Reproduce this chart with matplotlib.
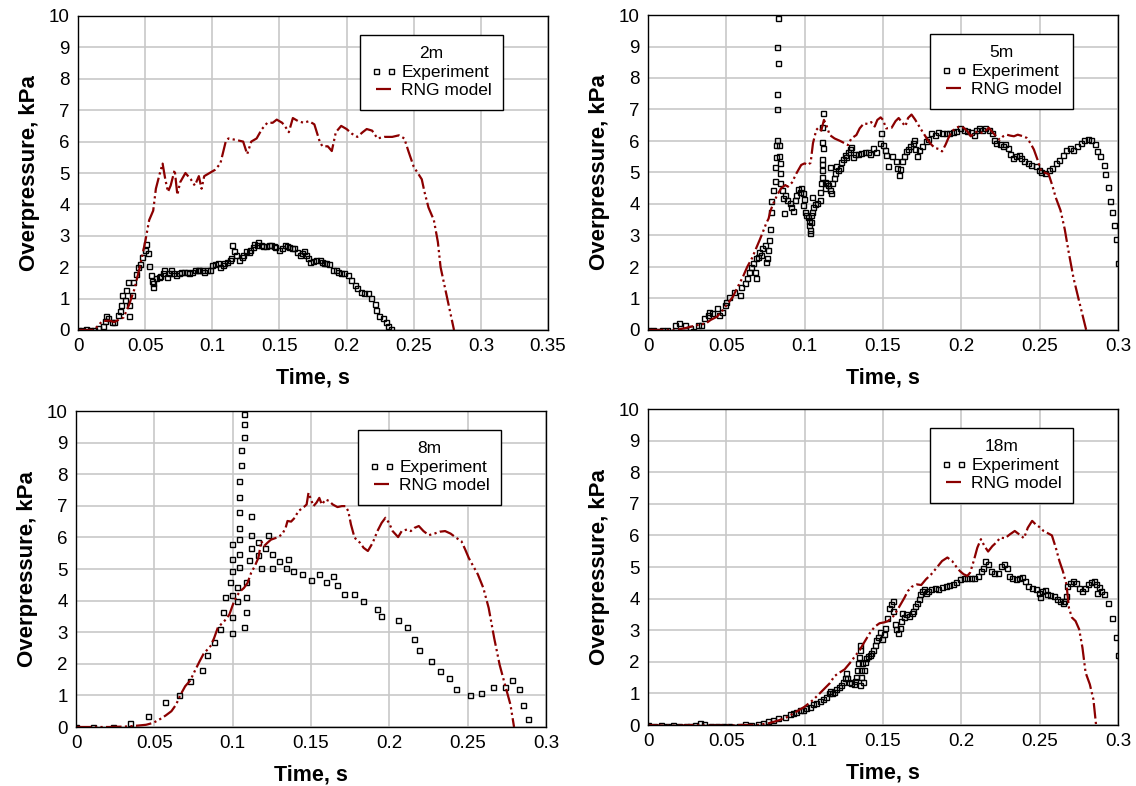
import matplotlib

matplotlib.use("Agg")
import matplotlib.pyplot as plt  # noqa: E402

plt.rcParams["font.family"] = ["Liberation Sans", "DejaVu Sans"]

# ---- 2 m ----
t_exp_2m = [0.000, 0.003, 0.006, 0.009, 0.012, 0.015, 0.0186, 0.020, 0.021, 0.022,
            0.025, 0.027, 0.030, 0.031, 0.032, 0.033, 0.035, 0.036, 0.037, 0.038,
            0.038, 0.040, 0.041, 0.043, 0.045, 0.046, 0.048, 0.050, 0.051, 0.052,
            0.053, 0.054, 0.055, 0.0555, 0.056, 0.058, 0.060, 0.061, 0.063, 0.064,
            0.066, 0.068, 0.069, 0.071, 0.073, 0.075, 0.077, 0.079, 0.081, 0.083,
            0.085, 0.087, 0.089, 0.090, 0.092, 0.094, 0.096, 0.098, 0.100, 0.102,
            0.104, 0.106, 0.108, 0.109, 0.111, 0.113, 0.114, 0.115, 0.116, 0.118,
            0.120, 0.122, 0.123, 0.125, 0.127, 0.128, 0.130, 0.131, 0.133, 0.134,
            0.136, 0.138, 0.140, 0.142, 0.144, 0.146, 0.147, 0.150, 0.152, 0.154,
            0.156, 0.157, 0.159, 0.161, 0.163, 0.165, 0.167, 0.168, 0.170, 0.171,
            0.173, 0.175, 0.177, 0.180, 0.182, 0.1835, 0.185, 0.187, 0.190, 0.192,
            0.1935, 0.196, 0.198, 0.201, 0.203, 0.206, 0.208, 0.211, 0.213, 0.216,
            0.218, 0.221, 0.222, 0.224, 0.227, 0.229, 0.2305, 0.233]
p_exp_2m = [0.00, 0.00, 0.02, 0.00, 0.00, 0.05, 0.13, 0.30, 0.45, 0.38,
            0.27, 0.27, 0.47, 0.60, 0.80, 1.12, 0.96, 1.27, 1.53, 0.43,
            0.80, 1.12, 1.53, 1.78, 2.00, 2.10, 2.33, 2.55, 2.73, 2.45,
            2.05, 1.76, 1.55, 1.36, 1.49, 1.65, 1.70, 1.72, 1.80, 1.90,
            1.70, 1.80, 1.90, 1.80, 1.76, 1.80, 1.84, 1.84, 1.86, 1.82,
            1.86, 1.90, 1.92, 1.92, 1.90, 1.86, 1.90, 1.92, 2.07, 2.10,
            2.12, 2.00, 2.06, 2.12, 2.18, 2.22, 2.28, 2.70, 2.50, 2.40,
            2.23, 2.32, 2.40, 2.50, 2.48, 2.55, 2.65, 2.75, 2.72, 2.80,
            2.70, 2.68, 2.67, 2.70, 2.70, 2.68, 2.65, 2.55, 2.62, 2.70,
            2.68, 2.65, 2.62, 2.60, 2.48, 2.40, 2.45, 2.50, 2.38, 2.28,
            2.18, 2.20, 2.23, 2.22, 2.16, 2.12, 2.14, 2.10, 1.91, 1.90,
            1.86, 1.83, 1.80, 1.75, 1.60, 1.43, 1.33, 1.22, 1.17, 1.17,
            1.01, 0.83, 0.64, 0.45, 0.37, 0.25, 0.13, 0.02]
t_rng_2m = [0.000, 0.012, 0.018, 0.0235, 0.027, 0.029, 0.034, 0.038, 0.042, 0.046,
            0.050, 0.053, 0.056, 0.058, 0.061, 0.063, 0.065, 0.067, 0.069, 0.072,
            0.074, 0.076, 0.080, 0.084, 0.087, 0.090, 0.092, 0.094, 0.098, 0.102,
            0.106, 0.110, 0.112, 0.118, 0.123, 0.126, 0.129, 0.133, 0.137, 0.141,
            0.145, 0.148, 0.152, 0.154, 0.157, 0.160, 0.164, 0.168, 0.172, 0.176,
            0.180, 0.182, 0.186, 0.189, 0.192, 0.196, 0.200, 0.204, 0.208, 0.212,
            0.215, 0.219, 0.223, 0.228, 0.234, 0.239, 0.243, 0.246, 0.250, 0.256,
            0.258, 0.261, 0.265, 0.268, 0.270, 0.275, 0.280]
p_rng_2m = [0.00, 0.00, 0.28, 0.30, 0.25, 0.30, 0.40, 0.80, 1.30, 2.00,
            2.80, 3.50, 3.80, 4.50, 5.00, 5.30, 4.80, 4.40, 4.60, 5.10,
            4.30, 4.70, 5.00, 4.80, 4.60, 4.90, 4.50, 4.90, 5.00, 5.10,
            5.30, 6.00, 6.10, 6.05, 6.00, 5.60, 6.00, 6.10, 6.40, 6.60,
            6.60, 6.70, 6.60, 6.50, 6.30, 6.75, 6.65, 6.60, 6.65, 6.55,
            6.00, 5.85, 5.85, 5.70, 6.30, 6.50, 6.40, 6.25, 6.15, 6.30,
            6.40, 6.35, 6.10, 6.15, 6.15, 6.20, 6.10, 5.70, 5.20, 4.80,
            4.40, 3.90, 3.50, 2.80, 2.00, 1.00, 0.00]

# ---- 5 m ----
t_exp_5m = [0.000, 0.003, 0.006, 0.009, 0.012, 0.017, 0.020, 0.0234, 0.0266, 0.0287,
            0.032, 0.034, 0.036, 0.038, 0.039, 0.041, 0.044, 0.045, 0.047, 0.049,
            0.050, 0.052, 0.055, 0.0585, 0.0596, 0.0617, 0.0634, 0.0642, 0.066, 0.067,
            0.0685, 0.0687, 0.069, 0.070, 0.071, 0.072, 0.073, 0.0745, 0.0755, 0.076,
            0.0766, 0.077, 0.0776, 0.0787, 0.0787, 0.0798, 0.081, 0.0813, 0.0817, 0.082,
            0.0823, 0.0821, 0.0821, 0.083, 0.0825, 0.083, 0.0834, 0.0836, 0.084, 0.084,
            0.0844, 0.0857, 0.0861, 0.0868, 0.0876, 0.0889, 0.0904, 0.0915, 0.0925, 0.0936,
            0.0947, 0.0957, 0.0968, 0.0978, 0.0989, 0.0996, 0.0991, 0.100, 0.101, 0.102,
            0.1025, 0.103, 0.1032, 0.1036, 0.1038, 0.1042, 0.1047, 0.1053, 0.1047, 0.1064,
            0.108, 0.1095, 0.1098, 0.1106, 0.111, 0.111, 0.111, 0.1113, 0.1117, 0.1113,
            0.1113, 0.1117, 0.1127, 0.1132, 0.1142, 0.1149, 0.116, 0.116, 0.1166, 0.1174,
            0.1187, 0.1196, 0.1202, 0.1213, 0.1223, 0.123, 0.1244, 0.1255, 0.1266, 0.1276,
            0.1287, 0.1298, 0.1308, 0.1319, 0.134, 0.1361, 0.1383, 0.1404, 0.1415, 0.1436,
            0.1457, 0.1478, 0.1489, 0.150, 0.151, 0.152, 0.153, 0.1555, 0.158, 0.159,
            0.160, 0.161, 0.162, 0.1635, 0.1647, 0.166, 0.1675, 0.169, 0.170, 0.1705,
            0.1716, 0.1728, 0.175, 0.1774, 0.1785, 0.1808, 0.183, 0.1854, 0.1877, 0.190,
            0.1923, 0.1946, 0.1969, 0.1991, 0.2015, 0.2038, 0.206, 0.208, 0.2095, 0.211,
            0.213, 0.2153, 0.2175, 0.2194, 0.221, 0.2222, 0.2245, 0.2267, 0.228, 0.2295,
            0.2313, 0.2332, 0.2348, 0.237, 0.238, 0.240, 0.2424, 0.2447, 0.2475, 0.2495,
            0.2511, 0.2534, 0.2557, 0.258, 0.2603, 0.2626, 0.2648, 0.2671, 0.2694, 0.2715,
            0.2738, 0.2761, 0.2784, 0.2807, 0.283, 0.2852, 0.2868, 0.2883, 0.291, 0.292,
            0.2933, 0.2949, 0.2963, 0.2974, 0.299, 0.300]
p_exp_5m = [0.00, 0.00, -0.02, 0.00, 0.00, 0.16, 0.21, 0.16, 0.05, -0.03,
            0.16, 0.16, 0.37, 0.48, 0.58, 0.53, 0.69, 0.48, 0.58, 0.79,
            0.90, 1.06, 1.22, 1.11, 1.38, 1.48, 1.64, 1.85, 2.01, 2.12,
            1.85, 1.64, 2.28, 2.33, 2.49, 2.38, 2.59, 2.70, 2.17, 2.28,
            2.54, 2.86, 3.20, 3.74, 4.10, 4.44, 4.74, 5.19, 5.50, 5.87,
            6.03, 7.00, 7.49, 8.49, 8.99, 9.89, 5.87, 5.52, 5.31, 4.97,
            4.66, 4.44, 4.18, 3.70, 4.28, 4.13, 4.04, 3.92, 3.79, 4.13,
            4.28, 4.47, 4.39, 4.50, 4.34, 4.15, 3.97, 3.74, 3.65, 3.58,
            3.47, 3.33, 3.17, 3.09, 3.44, 3.65, 3.76, 3.92, 4.23, 4.00,
            4.02, 4.13, 4.39, 4.66, 4.87, 5.08, 5.27, 5.42, 5.77, 5.98,
            6.46, 6.88, 4.71, 4.50, 4.66, 4.60, 5.19, 4.44, 4.36, 4.66,
            4.81, 4.97, 5.21, 5.08, 5.13, 5.34, 5.43, 5.56, 5.50, 5.66,
            5.74, 5.80, 5.50, 5.59, 5.59, 5.61, 5.66, 5.66, 5.59, 5.77,
            5.66, 5.93, 6.24, 5.87, 5.71, 5.56, 5.20, 5.51, 5.35, 5.14,
            4.93, 5.10, 5.35, 5.51, 5.67, 5.75, 5.83, 5.94, 6.04, 5.75,
            5.51, 5.72, 5.83, 6.00, 6.05, 6.26, 6.20, 6.28, 6.24, 6.26,
            6.26, 6.28, 6.31, 6.42, 6.34, 6.31, 6.28, 6.20, 6.34, 6.42,
            6.36, 6.42, 6.34, 6.26, 6.04, 5.94, 5.89, 5.83, 5.92, 5.78,
            5.60, 5.46, 5.51, 5.57, 5.46, 5.36, 5.30, 5.25, 5.20, 5.09,
            5.00, 4.98, 5.09, 5.14, 5.30, 5.41, 5.57, 5.70, 5.78, 5.70,
            5.83, 5.94, 6.04, 6.07, 6.04, 5.89, 5.67, 5.51, 5.25, 4.96,
            4.53, 4.11, 3.74, 3.32, 2.88, 2.12]
t_rng_5m = [0.000, 0.013, 0.017, 0.023, 0.032, 0.037, 0.040, 0.044, 0.047, 0.051,
            0.054, 0.0574, 0.0606, 0.0634, 0.0664, 0.069, 0.0713, 0.0734, 0.0755, 0.077,
            0.078, 0.080, 0.0825, 0.085, 0.0876, 0.0893, 0.0919, 0.0947, 0.0978, 0.100,
            0.102, 0.1038, 0.1053, 0.1074, 0.1089, 0.1106, 0.1123, 0.1138, 0.116, 0.1191,
            0.1223, 0.1255, 0.1276, 0.1298, 0.133, 0.1351, 0.1378, 0.1404, 0.1425, 0.1447,
            0.1464, 0.1485, 0.150, 0.152, 0.1555, 0.158, 0.160, 0.162, 0.1643, 0.166,
            0.1682, 0.1705, 0.1728, 0.175, 0.1785, 0.1808, 0.183, 0.1854, 0.1877, 0.190,
            0.1918, 0.194, 0.1969, 0.1991, 0.2015, 0.2038, 0.206, 0.2084, 0.2107, 0.213,
            0.2153, 0.2175, 0.2194, 0.2222, 0.2245, 0.2267, 0.229, 0.2313, 0.2336, 0.236,
            0.2394, 0.2417, 0.244, 0.2463, 0.2486, 0.251, 0.2534, 0.2557, 0.258, 0.2603,
            0.2633, 0.266, 0.2686, 0.2716, 0.275, 0.2797]
p_rng_5m = [0.00, 0.00, 0.00, 0.05, 0.16, 0.21, 0.32, 0.42, 0.58, 0.85,
            1.04, 1.38, 1.69, 2.01, 2.28, 2.59, 2.86, 3.12, 3.39, 3.54,
            3.76, 4.02, 4.29, 4.50, 4.60, 4.55, 4.68, 4.97, 5.24, 5.29,
            5.24, 5.31, 5.93, 6.35, 6.43, 6.33, 6.67, 6.51, 6.19, 6.08,
            6.01, 5.93, 5.87, 6.08, 6.19, 6.40, 6.56, 6.54, 6.60, 6.46,
            6.67, 6.75, 6.67, 6.40, 6.42, 6.63, 6.73, 6.60, 6.47, 6.73,
            6.84, 6.68, 6.49, 6.31, 6.04, 5.89, 5.78, 5.75, 5.67, 5.89,
            6.10, 6.31, 6.42, 6.47, 6.42, 6.31, 6.15, 6.26, 6.31, 6.26,
            6.31, 6.42, 6.31, 6.15, 6.04, 6.15, 6.20, 6.17, 6.15, 6.20,
            6.15, 6.10, 5.94, 5.73, 5.41, 5.04, 4.99, 4.95, 4.60, 4.20,
            3.80, 3.20, 2.45, 1.65, 0.95, 0.00]

# ---- 8 m ----
t_exp_8m = [0.000, 0.0106, 0.0238, 0.0343, 0.046, 0.0567, 0.0655, 0.0729, 0.0806, 0.0833,
            0.088, 0.0921, 0.0937, 0.0951, 0.0984, 0.0998, 0.0998, 0.0998, 0.0998, 0.0998,
            0.0998, 0.1025, 0.1028, 0.1039, 0.1042, 0.1039, 0.1039, 0.1039, 0.1039, 0.1039,
            0.1053, 0.1056, 0.1072, 0.1072, 0.1072, 0.1072, 0.1088, 0.1088, 0.1088, 0.1102,
            0.1118, 0.1118, 0.1118, 0.116, 0.1162, 0.1178, 0.1204, 0.1225, 0.1252, 0.1252,
            0.1296, 0.134, 0.1356, 0.1387, 0.1444, 0.1502, 0.1551, 0.1595, 0.1639, 0.1669,
            0.1713, 0.1773, 0.1829, 0.1921, 0.1949, 0.2053, 0.2113, 0.2157, 0.2188, 0.2264,
            0.2322, 0.2382, 0.2426, 0.2514, 0.2588, 0.2662, 0.2738, 0.2782, 0.2829, 0.2854,
            0.2887]
p_exp_8m = [0.00, 0.00, 0.00, 0.13, 0.36, 0.78, 1.02, 1.45, 1.80, 2.27,
            2.68, 3.10, 3.64, 4.11, 4.59, 4.17, 4.95, 5.31, 5.78, 2.98,
            3.47, 4.42, 3.98, 5.06, 5.48, 5.96, 6.31, 6.80, 7.28, 7.80,
            8.29, 8.76, 9.18, 9.60, 9.89, 3.16, 3.64, 4.12, 4.58, 5.30,
            5.66, 6.07, 6.67, 5.44, 5.85, 5.02, 5.66, 6.07, 5.48, 5.02,
            5.25, 5.02, 5.31, 4.95, 4.83, 4.66, 4.83, 4.58, 4.77, 4.48,
            4.22, 4.22, 3.98, 3.75, 3.51, 3.39, 3.16, 2.80, 2.44, 2.08,
            1.78, 1.55, 1.19, 1.01, 1.07, 1.26, 1.26, 1.48, 1.19, 0.71,
            0.24]
t_rng_8m = [0.000, 0.0215, 0.0343, 0.0447, 0.0493, 0.054, 0.0574, 0.0609, 0.0639, 0.0667,
            0.0697, 0.0729, 0.0759, 0.0789, 0.0817, 0.0845, 0.0863, 0.0882, 0.0905, 0.0928,
            0.0956, 0.0979, 0.1002, 0.1025, 0.1049, 0.1072, 0.1095, 0.1118, 0.1141, 0.1164,
            0.1183, 0.1199, 0.1222, 0.1245, 0.128, 0.1315, 0.1338, 0.135, 0.1373, 0.1396,
            0.1419, 0.1454, 0.1472, 0.1484, 0.150, 0.1516, 0.1535, 0.1553, 0.1569, 0.1593,
            0.1616, 0.1639, 0.1669, 0.1697, 0.172, 0.1738, 0.1755, 0.1778, 0.1813, 0.1836,
            0.1863, 0.1894, 0.1924, 0.1951, 0.1975, 0.1998, 0.2021, 0.2056, 0.2079, 0.2113,
            0.2137, 0.216, 0.2188, 0.2218, 0.2252, 0.2287, 0.2322, 0.2356, 0.2391, 0.2426,
            0.246, 0.2484, 0.2507, 0.253, 0.2565, 0.260, 0.2634, 0.2669, 0.2704, 0.2738,
            0.2773, 0.2796]
p_rng_8m = [0.00, 0.00, 0.02, 0.07, 0.13, 0.26, 0.37, 0.50, 0.71, 1.02,
            1.29, 1.47, 1.78, 2.08, 2.34, 2.48, 2.59, 2.82, 3.14, 3.26,
            3.40, 3.56, 3.88, 4.14, 4.30, 4.40, 4.56, 4.88, 5.09, 5.35,
            5.88, 5.72, 5.83, 5.93, 5.99, 6.09, 6.30, 6.52, 6.50, 6.62,
            6.83, 6.96, 7.04, 7.41, 7.20, 6.99, 7.10, 7.25, 7.04, 7.20,
            7.15, 7.04, 6.96, 6.99, 6.99, 6.83, 6.41, 5.99, 5.83, 5.67,
            5.57, 5.83, 6.20, 6.46, 6.62, 6.46, 6.20, 6.01, 6.20, 6.25,
            6.20, 6.30, 6.36, 6.20, 6.07, 6.12, 6.18, 6.20, 6.12, 5.99,
            5.88, 5.62, 5.35, 5.14, 4.83, 4.40, 3.77, 2.82, 1.97, 1.34,
            0.71, 0.00]

# ---- 18 m ----
t_exp_18m = [0.000, 0.004, 0.008, 0.012, 0.016, 0.020, 0.024, 0.027, 0.030, 0.033,
             0.036, 0.040, 0.044, 0.048, 0.052, 0.055, 0.058, 0.062, 0.066, 0.070,
             0.0734, 0.0766, 0.0798, 0.083, 0.0872, 0.0904, 0.0925, 0.0947, 0.0968, 0.0989,
             0.101, 0.1032, 0.1053, 0.1074, 0.1095, 0.1117, 0.1138, 0.1153, 0.116, 0.1174,
             0.1187, 0.1202, 0.1217, 0.1234, 0.1244, 0.1255, 0.1266, 0.1272, 0.128, 0.1298,
             0.1315, 0.1323, 0.133, 0.1336, 0.134, 0.1344, 0.1351, 0.1355, 0.1355, 0.1357,
             0.1361, 0.1366, 0.1372, 0.1378, 0.1383, 0.1393, 0.1404, 0.1415, 0.1425, 0.1436,
             0.1447, 0.1457, 0.1468, 0.1483, 0.1491, 0.1505, 0.1514, 0.1528, 0.1537, 0.1548,
             0.1562, 0.1567, 0.1574, 0.1583, 0.1597, 0.1606, 0.1613, 0.1624, 0.1636, 0.1647,
             0.1666, 0.1682, 0.1693, 0.1705, 0.1716, 0.1728, 0.1739, 0.175, 0.1762, 0.1774,
             0.179, 0.1808, 0.183, 0.1854, 0.1877, 0.190, 0.1923, 0.1946, 0.1969, 0.1991,
             0.2015, 0.2038, 0.206, 0.2084, 0.2107, 0.2125, 0.2141, 0.2153, 0.2171, 0.2187,
             0.221, 0.2233, 0.2256, 0.2274, 0.229, 0.2302, 0.2325, 0.2348, 0.237, 0.2387,
             0.2405, 0.2428, 0.2451, 0.2474, 0.2493, 0.2502, 0.2515, 0.2532, 0.2548, 0.2566,
             0.2589, 0.2612, 0.263, 0.2646, 0.2658, 0.2669, 0.2676, 0.2692, 0.2715, 0.2731,
             0.275, 0.2773, 0.2791, 0.2807, 0.2826, 0.2846, 0.286, 0.2869, 0.2876, 0.2892,
             0.291, 0.2938, 0.2963, 0.2985, 0.300]
p_exp_18m = [0.00, -0.02, 0.00, -0.03, 0.00, -0.03, -0.02, -0.04, 0.00, 0.07,
             0.02, -0.03, -0.02, -0.04, -0.03, -0.05, -0.02, 0.02, 0.01, 0.02,
             0.05, 0.14, 0.16, 0.21, 0.26, 0.34, 0.39, 0.42, 0.47, 0.47,
             0.53, 0.56, 0.66, 0.71, 0.77, 0.81, 0.90, 1.00, 1.08, 1.00,
             1.05, 1.13, 1.19, 1.27, 1.37, 1.48, 1.64, 1.48, 1.37, 1.32,
             1.30, 1.40, 1.53, 1.74, 1.95, 2.16, 2.37, 2.53, 1.27, 1.53,
             1.74, 1.95, 1.37, 1.74, 2.00, 2.11, 2.18, 2.22, 2.29, 2.37,
             2.53, 2.69, 2.80, 2.95, 2.71, 2.87, 3.08, 3.40, 3.71, 3.84,
             3.92, 3.61, 3.19, 3.03, 2.92, 3.08, 3.29, 3.55, 3.42, 3.50,
             3.45, 3.55, 3.61, 3.77, 3.87, 3.98, 4.14, 4.24, 4.29, 4.19,
             4.24, 4.29, 4.35, 4.29, 4.37, 4.40, 4.43, 4.45, 4.53, 4.61,
             4.66, 4.66, 4.66, 4.66, 4.72, 4.87, 4.98, 5.19, 5.08, 4.87,
             4.82, 4.82, 5.03, 5.08, 4.98, 4.72, 4.66, 4.61, 4.64, 4.68,
             4.56, 4.40, 4.35, 4.29, 4.19, 4.05, 4.24, 4.26, 4.14, 4.11,
             4.08, 4.00, 3.92, 3.87, 3.92, 4.08, 4.40, 4.50, 4.56, 4.50,
             4.35, 4.24, 4.35, 4.45, 4.53, 4.56, 4.45, 4.19, 4.37, 4.24,
             4.14, 3.87, 3.38, 2.79, 2.22]
t_rng_18m = [0.000, 0.010, 0.020, 0.030, 0.040, 0.050, 0.060, 0.070, 0.0766, 0.083,
             0.0893, 0.0947, 0.100, 0.1053, 0.1106, 0.116, 0.1191, 0.1223, 0.1255, 0.1287,
             0.1319, 0.1351, 0.1383, 0.1415, 0.1447, 0.1478, 0.151, 0.1532, 0.1567, 0.160,
             0.1636, 0.1659, 0.1682, 0.1716, 0.1744, 0.1774, 0.1808, 0.1843, 0.1877, 0.1911,
             0.1941, 0.1969, 0.1991, 0.2015, 0.2038, 0.2056, 0.2079, 0.2102, 0.2125, 0.2148,
             0.2171, 0.2198, 0.2222, 0.2249, 0.2279, 0.2309, 0.2341, 0.237, 0.240, 0.2424,
             0.2452, 0.2474, 0.2497, 0.2525, 0.2548, 0.2578, 0.2603, 0.2626, 0.2648, 0.2671,
             0.2687, 0.2706, 0.2729, 0.2752, 0.2773, 0.2793, 0.282, 0.2843, 0.286]
p_rng_18m = [0.00, -0.02, -0.02, 0.00, -0.02, -0.02, 0.00, 0.00, 0.05, 0.14,
             0.26, 0.42, 0.58, 0.79, 1.05, 1.32, 1.55, 1.66, 1.76, 1.95,
             2.16, 2.37, 2.64, 2.90, 3.11, 3.22, 3.25, 3.29, 3.45, 3.71,
             4.02, 4.24, 4.37, 4.45, 4.43, 4.61, 4.77, 4.98, 5.19, 5.30,
             5.19, 5.00, 4.87, 4.77, 4.72, 4.82, 5.19, 5.61, 5.88, 5.66,
             5.49, 5.66, 5.77, 5.93, 5.91, 6.03, 6.14, 6.03, 5.91, 6.24,
             6.46, 6.35, 6.27, 6.14, 6.08, 6.00, 5.61, 5.19, 4.87, 4.45,
             3.70, 3.40, 3.29, 3.03, 2.45, 1.66, 1.29, 0.81, 0.00]

x_ticks_35 = [0, 0.05, 0.1, 0.15, 0.2, 0.25, 0.3, 0.35]
x_labels_35 = ["0", "0.05", "0.1", "0.15", "0.2", "0.25", "0.3", "0.35"]
x_ticks_30 = [0, 0.05, 0.1, 0.15, 0.2, 0.25, 0.3]
x_labels_30 = ["0", "0.05", "0.1", "0.15", "0.2", "0.25", "0.3"]
y_ticks = list(range(11))

RNG_COLOR = "#8b0000"


def draw_panel(ax, t_exp, p_exp, t_rng, p_rng, name, xmax, xticks, xlabels):
    ax.plot(t_exp, p_exp, ls="none", marker="s", ms=3.6, mfc="none",
            mec="black", mew=1.0, label="Experiment")
    ax.plot(t_rng, p_rng, color=RNG_COLOR, lw=1.6,
            ls=(0, (7, 1.5, 1, 1.5, 1, 1.5)), label="RNG model")
    ax.set_xlim(0, xmax)
    ax.set_ylim(0, 10)
    ax.set_xticks(xticks)
    ax.set_xticklabels(xlabels)
    ax.set_yticks(y_ticks)
    ax.grid(True, color="#c8c8c8", lw=1.2)
    ax.set_axisbelow(True)
    ax.tick_params(length=0, labelsize=13.5, pad=6)
    ax.set_xlabel("Time, s", fontsize=15.5, fontweight="bold", labelpad=9)
    ax.set_ylabel("Overpressure, kPa", fontsize=16, fontweight="bold", labelpad=6)
    for s in ax.spines.values():
        s.set_color("black")
        s.set_linewidth(1.0)
    leg = ax.legend(title=name, loc="upper right", bbox_to_anchor=(0.905, 0.94),
                    borderaxespad=0, fontsize=12.5, title_fontsize=12.5,
                    numpoints=2, handlelength=1.45, handletextpad=0.3,
                    borderpad=0.65, labelspacing=0.2, fancybox=False,
                    framealpha=1, edgecolor="black")
    leg.get_frame().set_linewidth(1.0)


fig = plt.figure(figsize=(11.36, 7.86), dpi=100)
W, H = 1136, 786


def box(l, r, t, b):
    return [l / W, 1 - b / H, (r - l) / W, (b - t) / H]


ax1 = fig.add_axes(box(78, 548, 16, 330))
ax2 = fig.add_axes(box(648, 1118, 15, 330))
ax3 = fig.add_axes(box(76, 546, 411, 727))
ax4 = fig.add_axes(box(648, 1118, 409, 725))

draw_panel(ax1, t_exp_2m, p_exp_2m, t_rng_2m, p_rng_2m, "2m", 0.35, x_ticks_35, x_labels_35)
draw_panel(ax2, t_exp_5m, p_exp_5m, t_rng_5m, p_rng_5m, "5m", 0.3, x_ticks_30, x_labels_30)
draw_panel(ax3, t_exp_8m, p_exp_8m, t_rng_8m, p_rng_8m, "8m", 0.3, x_ticks_30, x_labels_30)
draw_panel(ax4, t_exp_18m, p_exp_18m, t_rng_18m, p_rng_18m, "18m", 0.3, x_ticks_30, x_labels_30)

fig.savefig("out.png", dpi=100)
